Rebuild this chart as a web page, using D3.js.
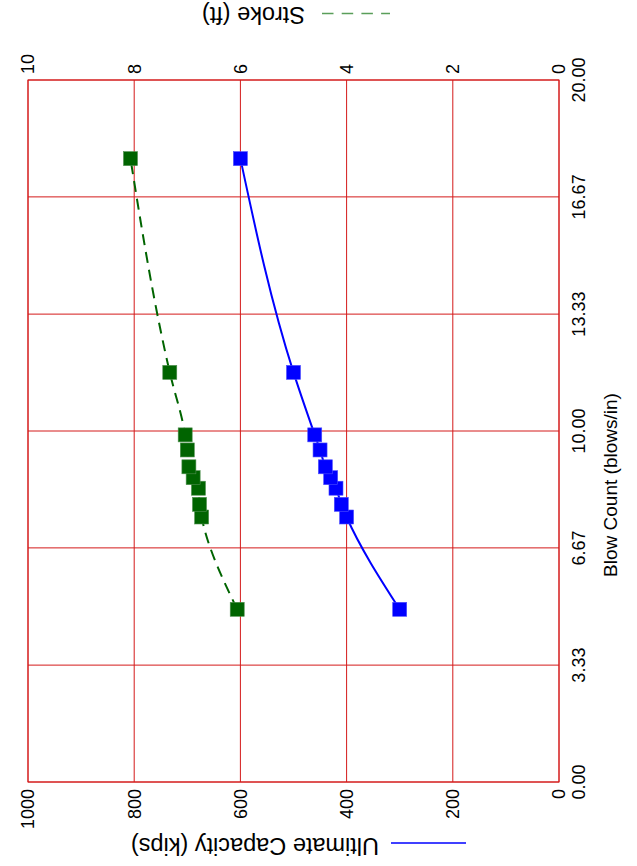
<!DOCTYPE html>
<html>
<head>
<meta charset="utf-8">
<script src="https://cdn.jsdelivr.net/npm/d3@7"></script>
<style>
  html, body { margin: 0; padding: 0; background: #fff; }
  svg { display: block; }
  text { font-family: "Liberation Sans", Arial, sans-serif; fill: #000; }
</style>
</head>
<body>
<script>
// Pile drivability results: blow count vs. ultimate capacity and hammer stroke
const blowCount = [4.92, 7.55, 7.91, 8.37, 8.67, 8.98, 9.46, 9.89, 11.67, 17.76];
const capacity  = [300, 400, 410, 420, 430, 440, 450, 460, 500, 600];
const stroke    = [6.06, 6.73, 6.77, 6.79, 6.89, 6.97, 7.00, 7.04, 7.33, 8.07];

const blowTicks = [0, 3.33, 6.67, 10, 13.33, 16.67, 20];
const blowTickLabels = ["0.00", "3.33", "6.67", "10.00", "13.33", "16.67", "20.00"];
const capTicks = [0, 200, 400, 600, 800, 1000];
const strokeTicks = [0, 2, 4, 6, 8, 10];

const W = 637, H = 866;
const svg = d3.select("body").append("svg").attr("width", W).attr("height", H);

// Chart is laid out turned on its side: blow count runs upward, capacity/stroke leftward
const plot = { left: 28, right: 559, top: 80, bottom: 782 };
const yB = d3.scaleLinear().domain([0, 20]).range([plot.bottom, plot.top]);
const xC = d3.scaleLinear().domain([0, 1000]).range([plot.right, plot.left]);
const xS = d3.scaleLinear().domain([0, 10]).range([plot.right, plot.left]);

const gridColor = "#d41a1a";
const fontSize = 18;
const legendFont = 23.5;

// Grid
const grid = svg.append("g");
grid.selectAll("line.h").data(blowTicks).join("line")
  .attr("x1", plot.left).attr("x2", plot.right)
  .attr("y1", d => yB(d)).attr("y2", d => yB(d))
  .attr("stroke", gridColor).attr("stroke-width", 1);
grid.selectAll("line.v").data(capTicks).join("line")
  .attr("y1", plot.top).attr("y2", plot.bottom)
  .attr("x1", d => xC(d)).attr("x2", d => xC(d))
  .attr("stroke", gridColor).attr("stroke-width", 1);

// Blow count tick labels (right side, reading upward)
svg.append("g").selectAll("text").data(blowTicks).join("text")
  .attr("transform", d => `translate(${579},${yB(d)}) rotate(-90)`)
  .attr("text-anchor", "middle").attr("dy", "0.35em")
  .attr("font-size", fontSize)
  .text((d, i) => blowTickLabels[i]);

svg.append("text")
  .attr("transform", `translate(${610},${yB(10) + 54}) rotate(-90)`)
  .attr("text-anchor", "middle").attr("dy", "0.35em")
  .attr("font-size", 19)
  .text("Blow Count (blows/in)");

// Capacity tick labels (bottom)
svg.append("g").selectAll("text").data(capTicks).join("text")
  .attr("transform", d => `translate(${xC(d)},${789}) rotate(-90)`)
  .attr("text-anchor", "end").attr("dy", "0.35em")
  .attr("font-size", fontSize)
  .text(d => d);

// Stroke tick labels (top)
svg.append("g").selectAll("text").data(strokeTicks).join("text")
  .attr("transform", d => `translate(${xS(d)},${74}) rotate(-90)`)
  .attr("text-anchor", "start").attr("dy", "0.35em")
  .attr("font-size", fontSize)
  .text(d => d);

// Legend entries (upside down)
svg.append("line").attr("x1", 391).attr("x2", 466).attr("y1", 843).attr("y2", 843)
  .attr("stroke", "#0000ff").attr("stroke-width", 1.5);
svg.append("text")
  .attr("transform", `translate(${379},${846}) rotate(180)`)
  .attr("text-anchor", "start").attr("dy", "0.35em")
  .attr("font-size", legendFont)
  .text("Ultimate Capacity (kips)");

svg.append("line").attr("x1", 322).attr("x2", 390).attr("y1", 13.5).attr("y2", 13.5)
  .attr("stroke", "#5a9e5a").attr("stroke-width", 1.5).attr("stroke-dasharray", "11.5,8.2");
svg.append("text")
  .attr("transform", `translate(${305},${15}) rotate(180)`)
  .attr("text-anchor", "start").attr("dy", "0.35em")
  .attr("font-size", legendFont)
  .text("Stroke (ft)");

// Frame
svg.append("rect")
  .attr("x", plot.left).attr("y", plot.top)
  .attr("width", plot.right - plot.left).attr("height", plot.bottom - plot.top)
  .attr("fill", "none").attr("stroke", gridColor).attr("stroke-width", 1);

// Series
const capData = blowCount.map((b, i) => ({ b, v: capacity[i] }));
const strData = blowCount.map((b, i) => ({ b, v: stroke[i] }));

const capLine = d3.line().x(d => xC(d.v)).y(d => yB(d.b)).curve(d3.curveMonotoneY);
const strLine = d3.line().x(d => xS(d.v)).y(d => yB(d.b)).curve(d3.curveMonotoneY);

svg.append("path").datum(strData).attr("d", strLine)
  .attr("fill", "none").attr("stroke", "#006400").attr("stroke-width", 2)
  .attr("stroke-dasharray", "11,7");
svg.append("path").datum(capData).attr("d", capLine)
  .attr("fill", "none").attr("stroke", "#0000ff").attr("stroke-width", 2);

const sq = 14;
svg.append("g").selectAll("rect").data(strData).join("rect")
  .attr("x", d => xS(d.v) - sq / 2).attr("y", d => yB(d.b) - sq / 2)
  .attr("width", sq).attr("height", sq)
  .attr("fill", "#006400").attr("stroke", "#4f8f4f").attr("stroke-width", 0.6);
svg.append("g").selectAll("rect").data(capData).join("rect")
  .attr("x", d => xC(d.v) - sq / 2).attr("y", d => yB(d.b) - sq / 2)
  .attr("width", sq).attr("height", sq)
  .attr("fill", "#0000ff").attr("stroke", "#4d4dff").attr("stroke-width", 0.6);
</script>
</body>
</html>
